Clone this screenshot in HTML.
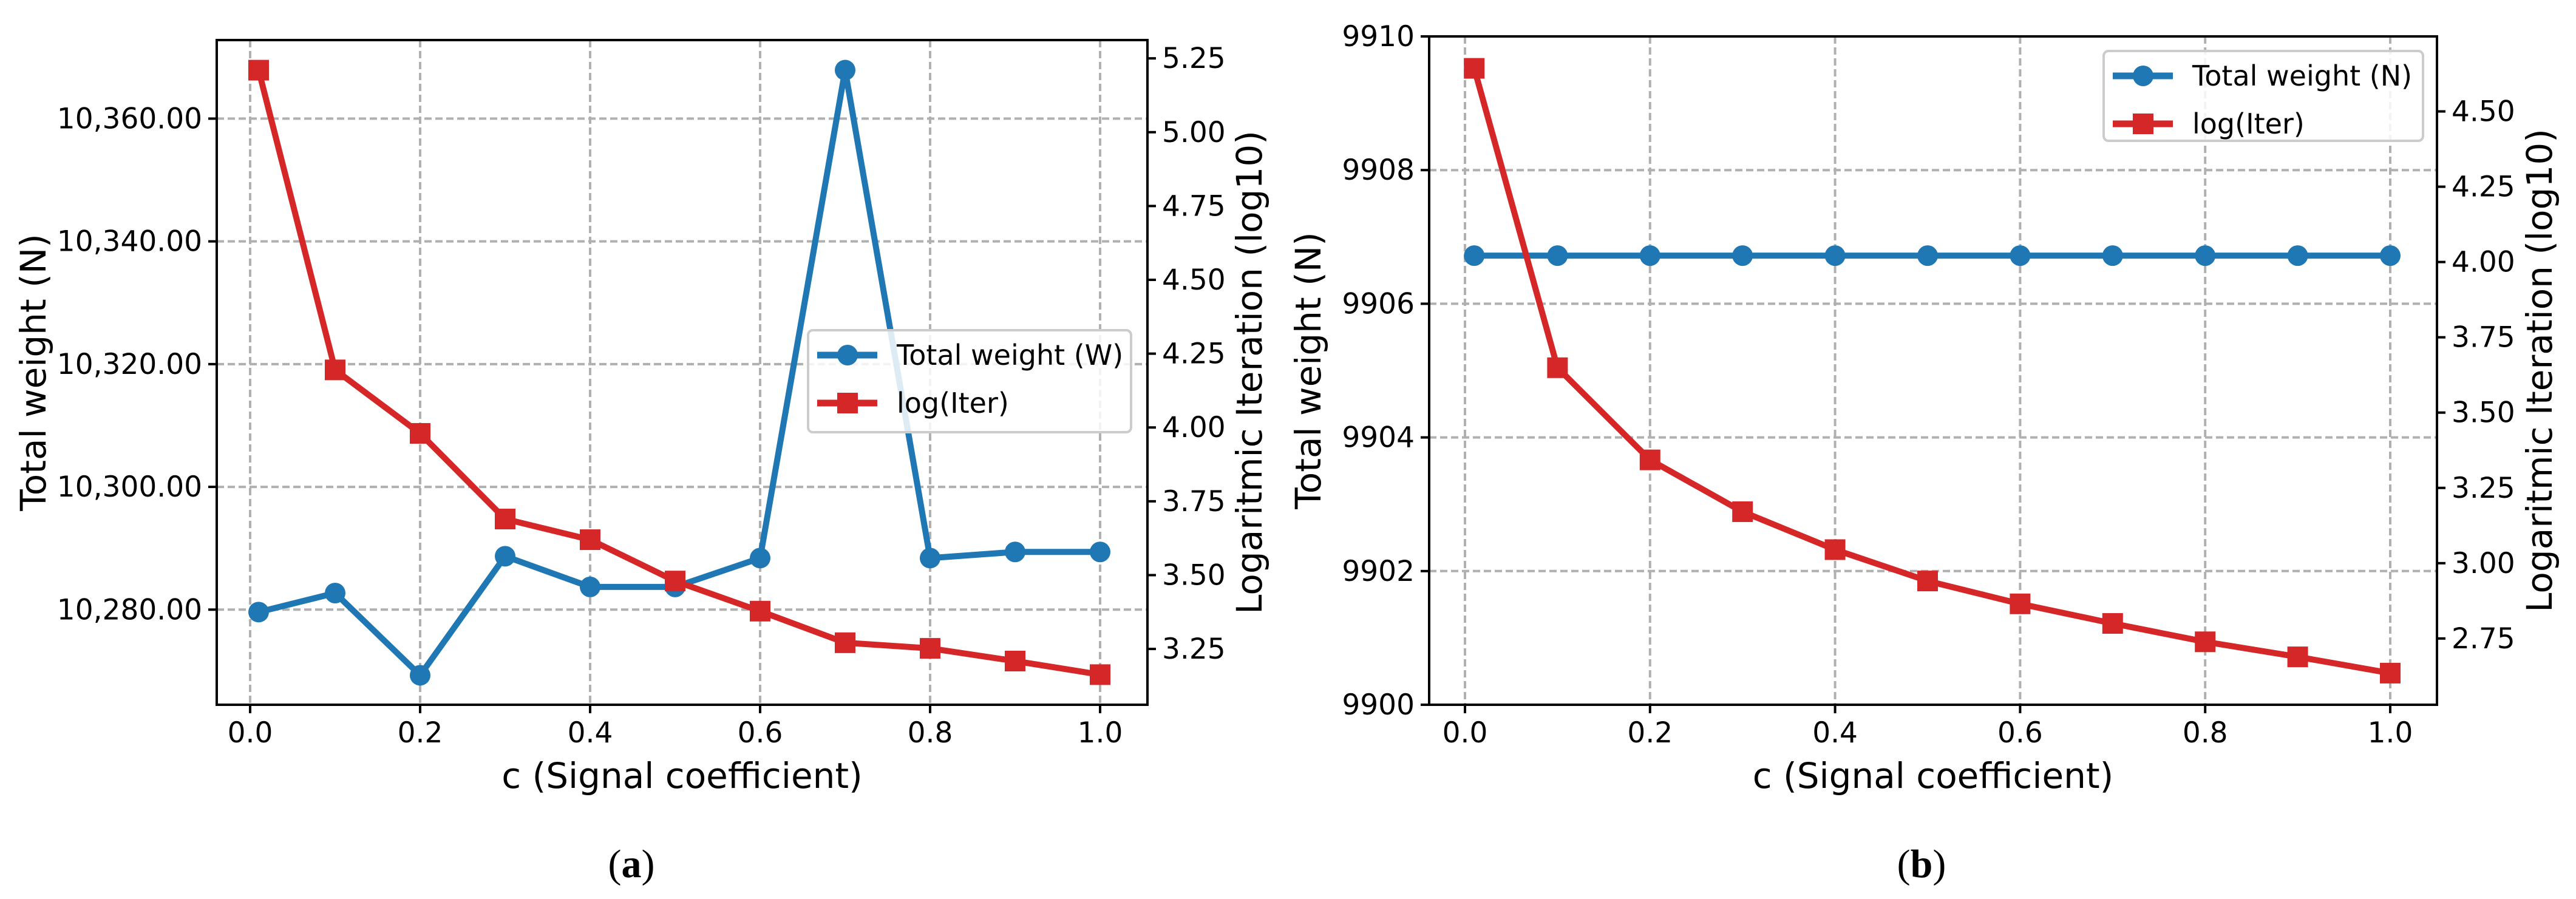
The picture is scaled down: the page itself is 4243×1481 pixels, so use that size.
<!DOCTYPE html>
<html><head><meta charset="utf-8">
<style>
html,body{margin:0;padding:0;background:#fff;}
svg{display:block;font-family:"DejaVu Sans","Liberation Sans",sans-serif;}
</style></head>
<body>
<svg id="fig" width="4243" height="1481" viewBox="0 0 4243 1481" xmlns="http://www.w3.org/2000/svg">
<rect width="4243" height="1481" fill="#fff"/>
</svg>
<script>
const xValues = [0.01,0.1,0.2,0.3,0.4,0.5,0.6,0.7,0.8,0.9,1.0];
const weightA = [10279.6,10282.7,10269.3,10288.7,10283.7,10283.7,10288.4,10367.9,10288.4,10289.4,10289.4];
const iterA = [5.21,4.195,3.98,3.69,3.62,3.48,3.378,3.271,3.252,3.209,3.163];
const weightB = [9906.72,9906.72,9906.72,9906.72,9906.72,9906.72,9906.72,9906.72,9906.72,9906.72,9906.72];
const iterB = [4.643,3.649,3.343,3.171,3.045,2.941,2.865,2.800,2.739,2.689,2.635];
const xTicks = [0,0.2,0.4,0.6,0.8,1.0];
const xTickLabels = ["0.0","0.2","0.4","0.6","0.8","1.0"];
const leftTicksA = [10280,10300,10320,10340,10360];
const leftTickLabelsA = ["10,280.00","10,300.00","10,320.00","10,340.00","10,360.00"];
const rightTicksA = [3.25,3.5,3.75,4.0,4.25,4.5,4.75,5.0,5.25];
const leftTicksB = [9900,9902,9904,9906,9908,9910];
const leftTickLabelsB = ["9900","9902","9904","9906","9908","9910"];
const rightTicksB = [2.75,3.0,3.25,3.5,3.75,4.0,4.25,4.5];

const NS="http://www.w3.org/2000/svg";
const svg=document.getElementById('fig');
function mk(tag,attrs,parent,text){const e=document.createElementNS(NS,tag);for(const k in attrs)e.setAttribute(k,attrs[k]);if(text!==undefined)e.textContent=text;(parent||svg).appendChild(e);return e;}

function panel(cfg){
  const g=mk('g',{});
  
  
  const {L,R,T,B}=cfg;
  const sx=v=>cfg.x0+(v)*(cfg.x1-cfg.x0);
  const sy=v=>B-(v-cfg.yMin)/(cfg.yMax-cfg.yMin)*(B-T);
  const sy2=v=>B-(v-cfg.rMin)/(cfg.rMax-cfg.rMin)*(B-T);
  xTicks.forEach(t=>{const l=mk('line',{x1:sx(t),x2:sx(t),y1:T,y2:B,stroke:'#b0b0b0','stroke-width':4,'stroke-dasharray':'12,6'},g);
    });
  cfg.lt.forEach(t=>{const l=mk('line',{x1:L,x2:R,y1:sy(t),y2:sy(t),stroke:'#b0b0b0','stroke-width':4,'stroke-dasharray':'12,6'},g);
    });
  const pw=xValues.map((x,i)=>sx(x)+','+sy(cfg.w[i])).join(' ');
  const wl=mk('polyline',{points:pw,fill:'none',stroke:'#1f77b4','stroke-width':10,'stroke-linejoin':'round'},g);
  
  xValues.forEach((x,i)=>{const c=mk('circle',{cx:sx(x),cy:sy(cfg.w[i]),r:17,fill:'#1f77b4'},g);
    });
  const pi=xValues.map((x,i)=>sx(x)+','+sy2(cfg.it[i])).join(' ');
  const il=mk('polyline',{points:pi,fill:'none',stroke:'#d62728','stroke-width':10,'stroke-linejoin':'round'},g);
  
  xValues.forEach((x,i)=>{const r=mk('rect',{x:sx(x)-17,y:sy2(cfg.it[i])-17,width:34,height:34,fill:'#d62728'},g);
    });
  const fr=mk('rect',{x:L,y:T,width:R-L,height:B-T,fill:'none',stroke:'#000','stroke-width':4},g);
  
  xTicks.forEach((t,i)=>{mk('line',{x1:sx(t),x2:sx(t),y1:B,y2:B+14,stroke:'#000','stroke-width':4},g);
    const tx=mk('text',{x:sx(t),y:B+62,'font-size':47,'text-anchor':'middle'},g,xTickLabels[i]);
    });
  cfg.lt.forEach((t,i)=>{mk('line',{x1:L-14,x2:L,y1:sy(t),y2:sy(t),stroke:'#000','stroke-width':4},g);
    const tx=mk('text',{x:L-24,y:sy(t)+16,'font-size':47,'text-anchor':'end'},g,cfg.ltl[i]);
    });
  cfg.rt.forEach(t=>{mk('line',{x1:R,x2:R+14,y1:sy2(t),y2:sy2(t),stroke:'#000','stroke-width':4},g);
    const tx=mk('text',{x:R+24,y:sy2(t)+16,'font-size':47},g,t.toFixed(2));
    });
  const xl=mk('text',{x:(L+R)/2,y:B+137,'font-size':58,'text-anchor':'middle'},g,'c (Signal coefficient)');
  
  const yl=mk('text',{transform:`translate(${cfg.ylx},${(T+B)/2}) rotate(-90)`,'font-size':58,'text-anchor':'middle'},g,'Total weight  (N)');
  
  const yr=mk('text',{transform:`translate(${cfg.yrx},${(T+B)/2}) rotate(-90)`,'font-size':58,'text-anchor':'middle'},g,'Logaritmic Iteration (log10)');
  
  const lg=mk('g',{},g);
  
  const [lx,ly,lw,lh]=cfg.leg;
  mk('rect',{x:lx,y:ly,width:lw,height:lh,rx:8,fill:'#fff','fill-opacity':0.85,stroke:'#cccccc','stroke-width':4},lg);
  const e1=mk('g',{},lg);
  mk('line',{x1:lx+15,x2:lx+114,y1:ly+41,y2:ly+41,stroke:'#1f77b4','stroke-width':11},e1);
  mk('circle',{cx:lx+65,cy:ly+41,r:17,fill:'#1f77b4'},e1);
  mk('text',{x:lx+146,y:ly+57,'font-size':46},e1,cfg.legText);
  const e2=mk('g',{},lg);
  mk('line',{x1:lx+15,x2:lx+114,y1:ly+120,y2:ly+120,stroke:'#d62728','stroke-width':11},e2);
  mk('rect',{x:lx+48,y:ly+103,width:34,height:34,fill:'#d62728'},e2);
  mk('text',{x:lx+146,y:ly+136,'font-size':46},e2,'log(Iter)');
  const cap=mk('text',{x:cfg.capx,y:1445,'font-size':66,'text-anchor':'middle','font-family':'"Liberation Serif",serif'},g);
  
  mk('tspan',{},cap,'(');mk('tspan',{'font-weight':'bold'},cap,cfg.cap);mk('tspan',{},cap,')');
}

panel({name:'chart-a',L:357,R:1890,T:66,B:1161,x0:412,x1:1812,
  yMin:10264.5,yMax:10372.8,rMin:3.061,rMax:5.312,w:weightA,it:iterA,
  lt:leftTicksA,ltl:leftTickLabelsA,rt:rightTicksA,ylx:75,yrx:2078,
  leg:[1331,544,532,168],legText:'Total weight (W)',capx:1040,cap:'a'});
panel({name:'chart-b',L:2354,R:4014,T:60,B:1161,x0:2413,x1:3937,
  yMin:9900,yMax:9910,rMin:2.530,rMax:4.749,w:weightB,it:iterB,
  lt:leftTicksB,ltl:leftTickLabelsB,rt:rightTicksB,ylx:2175,yrx:4203,
  leg:[3465,84,526,148],legText:'Total weight (N)',capx:3165,cap:'b'});
</script>
</body></html>
